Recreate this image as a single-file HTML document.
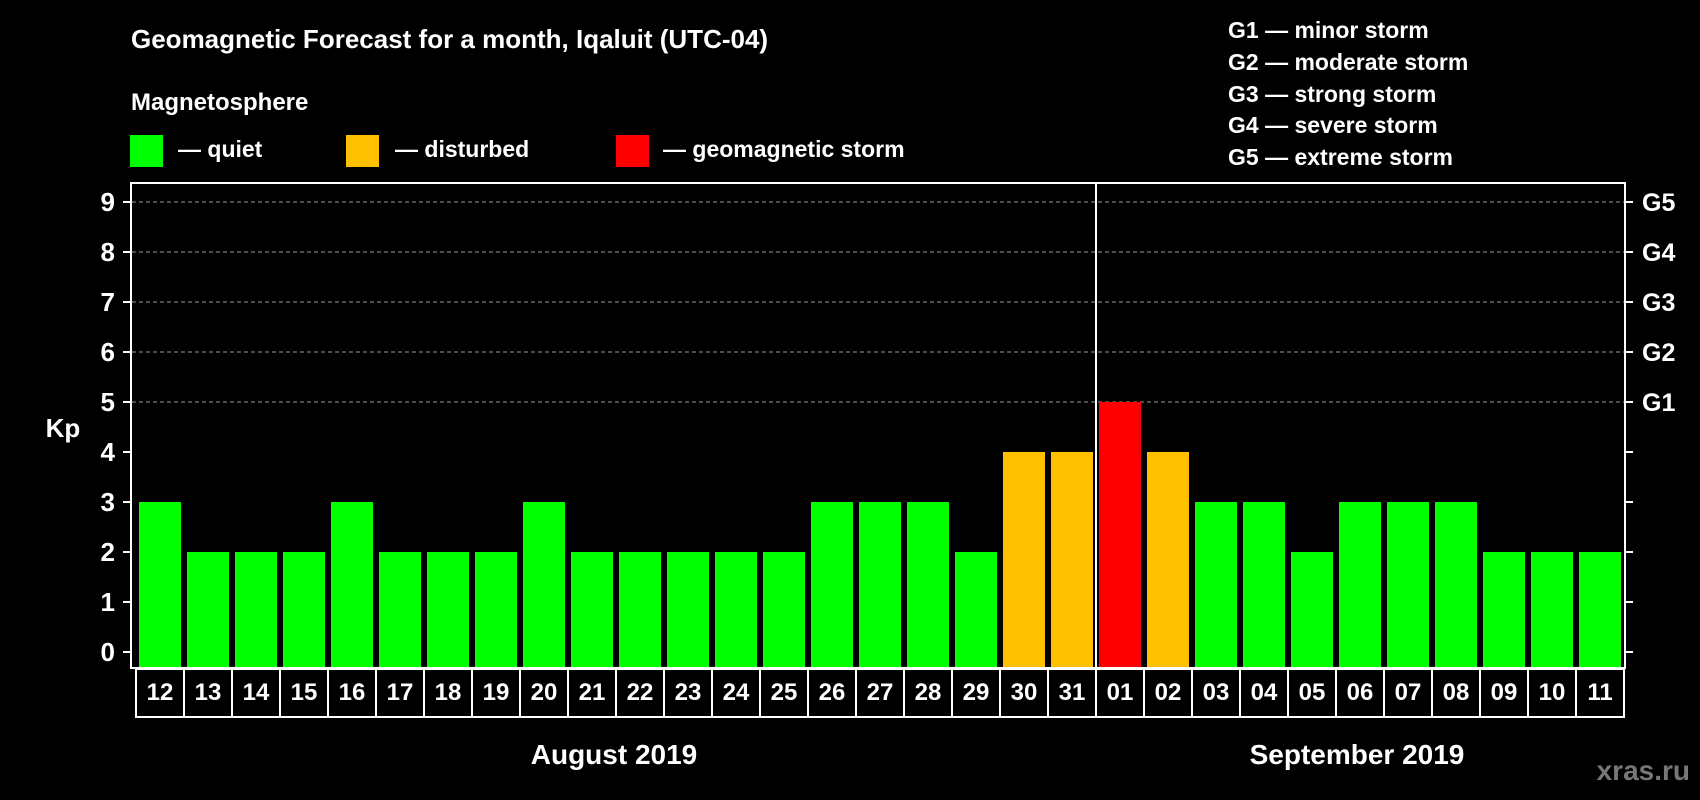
<!DOCTYPE html>
<html><head><meta charset="utf-8">
<style>
html,body{margin:0;padding:0;background:#000;}
svg{display:block;font-family:"Liberation Sans",Arial,sans-serif;font-weight:bold;}
</style></head>
<body>
<svg id="chart" width="1700" height="800" viewBox="0 0 1700 800">
  <rect x="0" y="0" width="1700" height="800" fill="#000"/>
  <text x="131" y="48" font-size="26" fill="#fff">Geomagnetic Forecast for a month, Iqaluit (UTC-04)</text>
  <text x="131" y="110" font-size="24" fill="#fff">Magnetosphere</text>
  <g>
    <rect x="130" y="135" width="33" height="32" fill="#00ff00"/>
    <text x="178" y="157" font-size="23" fill="#fff">— quiet</text>
    <rect x="346" y="135" width="33" height="32" fill="#ffc000"/>
    <text x="395" y="157" font-size="23" fill="#fff">— disturbed</text>
    <rect x="616" y="135" width="33" height="32" fill="#ff0000"/>
    <text x="663" y="157" font-size="23" fill="#fff">— geomagnetic storm</text>
  </g>
  <g font-size="23" fill="#fff">
    <text x="1228" y="38">G1 — minor storm</text>
    <text x="1228" y="70">G2 — moderate storm</text>
    <text x="1228" y="102">G3 — strong storm</text>
    <text x="1228" y="133">G4 — severe storm</text>
    <text x="1228" y="165">G5 — extreme storm</text>
  </g>
  <g id="grid"></g>
  <g id="bars"></g>
  <rect x="131" y="183" width="1494" height="485" fill="none" stroke="#fff" stroke-width="2"/>
  <line x1="1096" y1="183" x2="1096" y2="668" stroke="#fff" stroke-width="2"/>
  <g id="yaxis"></g>
  <g id="xaxis"></g>
  <text x="63" y="437" font-size="26" fill="#fff" text-anchor="middle">Kp</text>
  <text x="614" y="764" font-size="28" fill="#fff" text-anchor="middle">August 2019</text>
  <text x="1357" y="764" font-size="28" fill="#fff" text-anchor="middle">September 2019</text>
  <text x="1690" y="780" font-size="28" fill="#777" text-anchor="end">xras.ru</text>
</svg>
<script>
const days = ["12","13","14","15","16","17","18","19","20","21","22","23","24","25","26","27","28","29","30","31","01","02","03","04","05","06","07","08","09","10","11"];
const kpValues = [3,2,2,2,3,2,2,2,3,2,2,2,2,2,3,3,3,2,4,4,5,4,3,3,2,3,3,3,2,2,2];
const yTicks = [0,1,2,3,4,5,6,7,8,9];
const gLabels = ["G1","G2","G3","G4","G5"];
const gLevels = [5,6,7,8,9];

const NS = "http://www.w3.org/2000/svg";
const slotX0 = 136, slotW = 48, barW = 42;
function xScale(i){ return slotX0 + i*slotW; }
function yScale(v){ return 652 - 50*v; }
function colorFor(v){ return v >= 5 ? "#ff0000" : (v >= 4 ? "#ffc000" : "#00ff00"); }
function mk(tag, attrs, parent){
  const el = document.createElementNS(NS, tag);
  for (const k in attrs) el.setAttribute(k, attrs[k]);
  parent.appendChild(el);
  return el;
}
const grid = document.getElementById("grid");
const bars = document.getElementById("bars");
const yaxis = document.getElementById("yaxis");
const xaxis = document.getElementById("xaxis");

gLevels.forEach((lv, j) => {
  const y = yScale(lv);
  const gl = mk("line", {x1:132, x2:1624, y1:y, y2:y, stroke:"#999", "stroke-width":1, "stroke-dasharray":"4 3"}, grid);
  
  
  const t = mk("text", {x:1642, y:y+9, "font-size":25, fill:"#fff"}, yaxis);
  t.textContent = gLabels[j];
  
  
});

kpValues.forEach((v, i) => {
  const y = yScale(v);
  const r = mk("rect", {x:xScale(i)+3, y:y, width:barW, height:667-y, fill:colorFor(v)}, bars);
  
  
});

yTicks.forEach(v => {
  const y = yScale(v);
  const tl = mk("line", {x1:123, x2:131, y1:y, y2:y, stroke:"#fff", "stroke-width":2}, yaxis);
  
  
  const tr = mk("line", {x1:1625, x2:1633, y1:y, y2:y, stroke:"#fff", "stroke-width":2}, yaxis);
  
  
  const t = mk("text", {x:115, y:y+9, "font-size":26, fill:"#fff", "text-anchor":"end"}, yaxis);
  t.textContent = v;
  
  
});

days.forEach((d, i) => {
  const x = xScale(i);
  const b = mk("rect", {x:x, y:669, width:slotW, height:48, fill:"none", stroke:"#fff", "stroke-width":2}, xaxis);
  
  
  const t = mk("text", {x:x+slotW/2, y:700, "font-size":24, fill:"#fff", "text-anchor":"middle"}, xaxis);
  t.textContent = d;
  
  
});
</script>
</body></html>
